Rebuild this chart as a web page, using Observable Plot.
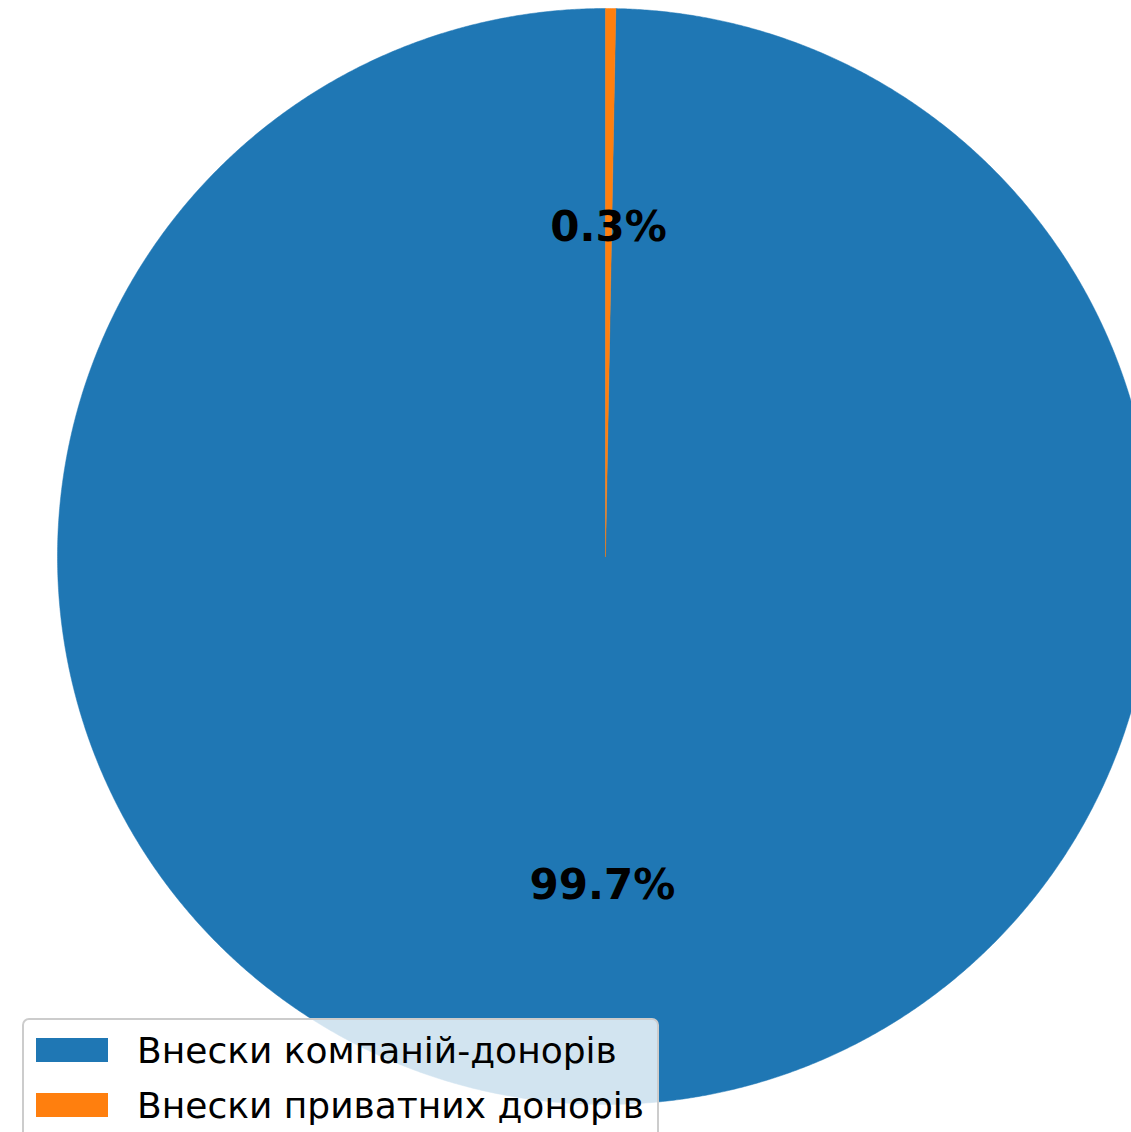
<!DOCTYPE html>
<html>
<head>
<meta charset="utf-8">
<script src="https://cdn.jsdelivr.net/npm/d3@7"></script>
<script src="https://cdn.jsdelivr.net/npm/@observablehq/plot@0.6"></script>
<style>
  html, body { margin: 0; padding: 0; background: #fff; overflow: hidden; }
  #wrap { position: relative; width: 1131px; height: 1132px; }
  #legend {
    position: absolute; left: 22px; top: 1018px; width: 637px; height: 130px;
    background: rgba(255,255,255,0.8); border: 2px solid #cccccc; border-radius: 7px;
    font-family: "DejaVu Sans", sans-serif; font-size: 36px; color: #000;
    box-sizing: border-box;
  }
  .item { position: absolute; left: 12px; height: 42px; display: flex; align-items: center; }
  .sw { width: 72px; height: 24px; margin-right: 29px; }
</style>
</head>
<body>
<div id="wrap"></div>
<script>
const labels = ["Внески компаній-донорів", "Внески приватних донорів"];
const values = [99.7, 0.3];
const colors = ["#1f77b4", "#ff7f0e"];

const W = 1131, H = 1132;
const cx = 605, cy = 556, R = 548;
const startAngle = 90; // degrees, counterclockwise
const total = d3.sum(values);

// build wedge polygons from values
const wedgePts = [];
const labelPts = [];
let a0 = startAngle;
values.forEach((v, i) => {
  const sweep = v / total * 360;
  const a1 = a0 + sweep;
  const n = Math.max(4, Math.ceil(sweep / 0.25));
  wedgePts.push({k: i, x: 0, y: 0});
  for (let j = 0; j <= n; j++) {
    const a = (a0 + sweep * j / n) * Math.PI / 180;
    wedgePts.push({k: i, x: Math.cos(a), y: Math.sin(a)});
  }
  wedgePts.push({k: i, x: 0, y: 0});
  const am = (a0 + sweep / 2) * Math.PI / 180;
  labelPts.push({k: i, x: 0.6 * Math.cos(am), y: 0.6 * Math.sin(am), t: (v / total * 100).toFixed(1) + "%"});
  a0 = a1;
});

const chart = Plot.plot({
  width: W, height: H,
  margin: 0,
  style: {fontFamily: "DejaVu Sans, sans-serif", background: "transparent"},
  x: {domain: [-cx / R, (W - cx) / R], range: [0, W], axis: null},
  y: {domain: [cy / R, (cy - H) / R], range: [0, H], axis: null},
  color: {domain: [0, 1], range: colors, type: "ordinal"},
  marks: [
    Plot.line(wedgePts, {x: "x", y: "y", z: "k", fill: "k", stroke: "k", strokeWidth: 0.5, curve: "linear", clip: true}),
    Plot.text(labelPts, {x: "x", y: "y", text: "t", fontSize: 42, fontWeight: "bold", fill: "black"})
  ]
});
document.getElementById("wrap").appendChild(chart);

const leg = document.createElement("div");
leg.id = "legend";
labels.forEach((l, i) => {
  const it = document.createElement("div");
  it.className = "item";
  it.style.top = (9 + i * 55) + "px";
  const sw = document.createElement("div");
  sw.className = "sw";
  sw.style.background = colors[i];
  const tx = document.createElement("span");
  tx.textContent = l;
  it.appendChild(sw); it.appendChild(tx);
  leg.appendChild(it);
});
document.getElementById("wrap").appendChild(leg);
</script>
</body>
</html>
